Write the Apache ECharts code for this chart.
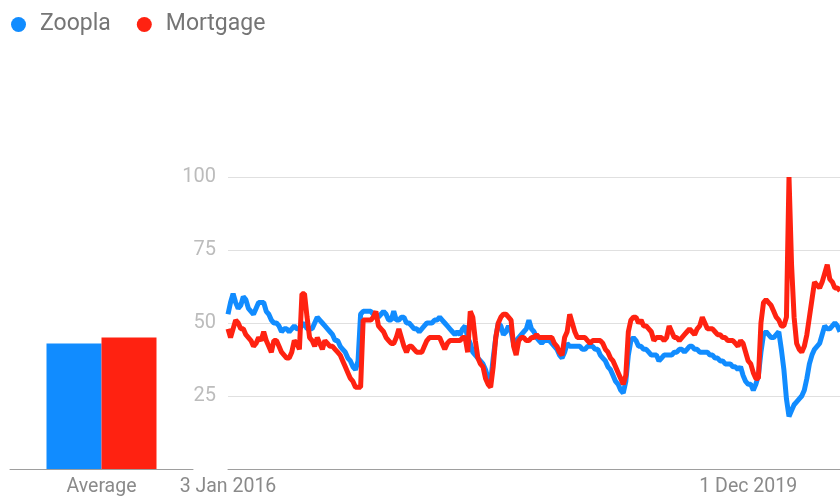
<!DOCTYPE html>
<html>
<head>
<meta charset="utf-8">
<script src="https://cdn.jsdelivr.net/npm/echarts@6/dist/echarts.min.js"></script>
<style>
  html, body { margin: 0; padding: 0; background: #fff; }
  #trends { width: 840px; height: 497px; }
</style>
</head>
<body>
<div id="trends"></div>
<script>
  // weekly search interest, Google Trends style (week starting 3 Jan 2016)
  const startDate = Date.UTC(2016, 0, 3);
  const seriesNames = ['Zoopla', 'Mortgage'];
  const averages = [43, 45];
  const tickLabels = ['3 Jan 2016', '1 Dec 2019'];

  const zoopla = [
    53, 57, 60, 57, 55, 56, 59, 58, 55, 54,
    53, 55, 57, 57, 57, 54, 53, 51, 50, 50,
    49, 47, 48, 48, 47, 48, 49, 48, 48, 49,
    50, 48, 48, 48, 50, 52, 51, 50, 49, 48,
    47, 46, 44, 44, 42, 41, 40, 38, 37, 35,
    34, 37, 53, 54, 54, 54, 54, 53, 53, 52,
    53, 54, 53, 51, 51, 54, 51, 51, 52, 52,
    50, 50, 49, 48, 48, 47, 48, 49, 50, 50,
    50, 51, 51, 52, 51, 50, 49, 48, 47, 46,
    47, 46, 48, 49, 45, 43, 40, 39, 38, 37,
    36, 34, 31, 30, 38, 45, 50, 49, 46, 47,
    49, 47, 43, 44, 45, 46, 47, 48, 51, 48,
    47, 45, 44, 43, 44, 44, 44, 43, 42, 41,
    39, 38, 40, 43, 42, 42, 42, 42, 42, 41,
    41, 42, 42, 42, 41, 41, 39, 38, 37, 35,
    34, 32, 30, 29, 27, 26, 30, 39, 44, 45,
    44, 42, 42, 41, 41, 40, 39, 39, 39, 37,
    38, 39, 39, 39, 39, 40, 40, 41, 41, 40,
    41, 42, 42, 41, 41, 40, 40, 40, 40, 39,
    39, 38, 38, 37, 37, 36, 36, 36, 35, 35,
    34, 35, 32, 30, 29, 29, 27, 29, 32, 40,
    46, 47, 46, 45, 45, 46, 47, 41, 34, 24,
    18, 20, 22, 23, 24, 25, 27, 31, 36, 39,
    41, 42, 43, 46, 49, 48, 48, 49, 50, 49,
    47
  ];

  const mortgage = [
    48, 45, 48, 51, 50, 48, 48, 46, 45, 44,
    42, 43, 45, 44, 47, 44, 42, 40, 44, 44,
    42, 40, 39, 38, 38, 40, 44, 43, 41, 60,
    60, 52, 45, 44, 42, 45, 43, 41, 44, 43,
    42, 42, 41, 40, 39, 37, 35, 33, 31, 30,
    28, 28, 28, 51, 51, 51, 51, 52, 54, 49,
    48, 47, 45, 44, 43, 43, 45, 48, 45, 42,
    40, 42, 42, 41, 40, 40, 40, 42, 44, 45,
    45, 45, 45, 45, 43, 41, 43, 44, 44, 44,
    44, 44, 45, 45, 40, 54, 52, 44, 38, 36,
    35, 31, 29, 28, 35, 45, 50, 52, 53, 53,
    52, 51, 42, 39, 44, 45, 45, 44, 44, 45,
    45, 46, 45, 45, 45, 45, 45, 45, 43, 42,
    40, 39, 45, 47, 53, 50, 47, 45, 45, 45,
    45, 44, 43, 44, 44, 44, 44, 43, 41, 40,
    38, 37, 35, 33, 31, 29, 32, 47, 51, 52,
    52, 50, 51, 49, 49, 48, 47, 44, 45, 45,
    45, 44, 45, 49, 47, 45, 45, 44, 45, 46,
    47, 48, 47, 46, 48, 49, 52, 50, 48, 48,
    48, 47, 46, 46, 45, 45, 44, 44, 44, 43,
    42, 44, 43, 40, 37, 36, 33, 31, 31, 50,
    57, 58, 57, 56, 54, 52, 51, 49, 49, 52,
    100, 70, 52, 43, 41, 40, 42, 46, 52, 58,
    64, 63, 62, 64, 67, 70, 65, 64, 62, 62,
    61
  ];

  const blue = '#118cff';
  const red = '#ff2211';
  const months = ['Jan', 'Feb', 'Mar', 'Apr', 'May', 'Jun', 'Jul', 'Aug', 'Sep', 'Oct', 'Nov', 'Dec'];

  // week labels for the category axis
  const weeks = zoopla.map((v, i) => {
    const d = new Date(startDate + i * 7 * 86400000);
    return d.getUTCDate() + ' ' + months[d.getUTCMonth()] + ' ' + d.getUTCFullYear();
  });

  const chart = echarts.init(document.getElementById('trends'));
  const option = {
    animation: false,
    textStyle: { fontFamily: 'Roboto' },
    color: [blue, red],
    legend: {
      left: 6,
      top: 8,
      icon: 'circle',
      itemWidth: 15,
      itemHeight: 15,
      itemGap: 26,
      textStyle: {
        fontSize: 23,
        color: '#757575',
        fontFamily: 'Roboto',
        padding: [0, 0, 0, 9]
      },
      data: seriesNames
    },
    grid: [
      { left: 10, width: 183, top: 177, bottom: 26 },   // average bars
      { left: 228, right: 0, top: 177, bottom: 26 }     // weekly lines
    ],
    xAxis: [
      {
        gridIndex: 0,
        type: 'category',
        data: ['Average'],
        axisTick: { show: false },
        axisLine: { lineStyle: { color: '#9e9e9e', width: 1 } },
        axisLabel: { color: '#8a8a8a', fontSize: 19.5, margin: 8 }
      },
      {
        gridIndex: 1,
        type: 'category',
        data: weeks,
        boundaryGap: false,
        axisTick: { show: false },
        axisLine: { lineStyle: { color: '#9e9e9e', width: 1 } },
        axisLabel: {
          color: '#8a8a8a',
          fontSize: 19.5,
          margin: 8,
          interval: (idx, val) => tickLabels.indexOf(val) >= 0
        },
        splitLine: { show: false }
      }
    ],
    yAxis: [
      {
        gridIndex: 0,
        type: 'value',
        min: 0,
        max: 100,
        show: false
      },
      {
        gridIndex: 1,
        type: 'value',
        min: 0,
        max: 100,
        interval: 25,
        axisLine: { show: false },
        axisTick: { show: false },
        axisLabel: {
          color: '#bcbcbc',
          fontSize: 20,
          margin: 12,
          formatter: v => (v === 0 ? '' : v)
        },
        splitLine: { lineStyle: { color: '#e0e0e0', width: 1 } }
      }
    ],
    series: [
      {
        name: 'Zoopla',
        type: 'bar',
        xAxisIndex: 0,
        yAxisIndex: 0,
        data: [averages[0]],
        barWidth: 55,
        barGap: '0%',
        itemStyle: { color: blue }
      },
      {
        name: 'Mortgage',
        type: 'bar',
        xAxisIndex: 0,
        yAxisIndex: 0,
        data: [averages[1]],
        barWidth: 55,
        barGap: '0%',
        itemStyle: { color: red }
      },
      {
        name: 'Zoopla',
        type: 'line',
        xAxisIndex: 1,
        yAxisIndex: 1,
        data: zoopla,
        showSymbol: false,
        lineStyle: { color: blue, width: 5 }
      },
      {
        name: 'Mortgage',
        type: 'line',
        xAxisIndex: 1,
        yAxisIndex: 1,
        data: mortgage,
        showSymbol: false,
        lineStyle: { color: red, width: 5 }
      }
    ]
  };
  chart.setOption(option);
</script>
</body>
</html>
